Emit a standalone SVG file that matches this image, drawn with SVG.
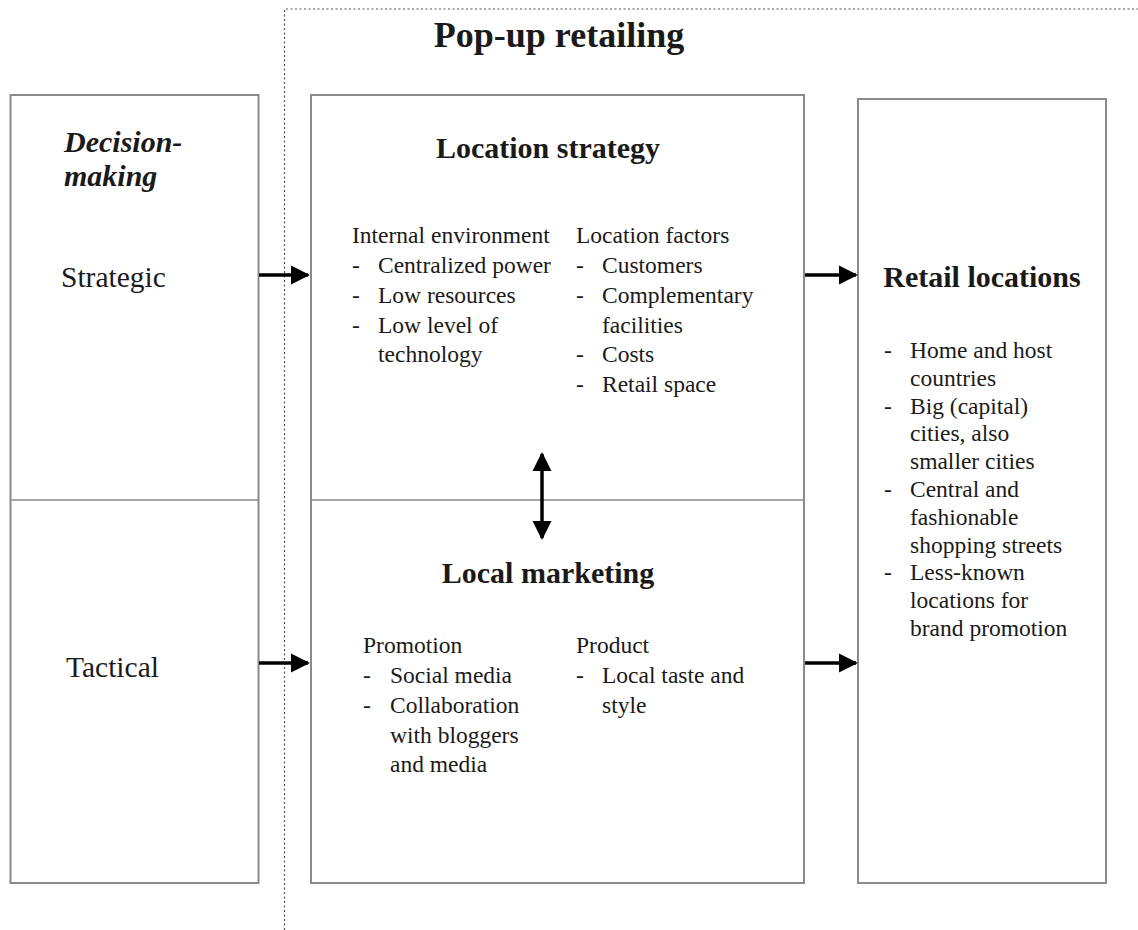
<svg xmlns="http://www.w3.org/2000/svg" width="1138" height="930" viewBox="0 0 1138 930">
  <style>
    .box { fill: #ffffff; stroke: #8a8a8a; stroke-width: 2; }
    .div { stroke: #8a8a8a; stroke-width: 1.5; }
    .frame { fill: none; stroke: #555555; stroke-width: 1.2; stroke-dasharray: 2 2.5; }
    .t { font-family: "Liberation Serif", "Times New Roman", serif; fill: #1a1a1a; }
    .body { font-size: 23.5px; }
    .head { font-size: 30px; font-weight: bold; }
    .side { font-size: 29.5px; }
    .conn { stroke: #000000; stroke-width: 3.5; fill: none; }
  </style>
  <defs>
    <marker id="ah" viewBox="0 0 10 10" refX="9" refY="5" markerWidth="5.5" markerHeight="5.5" markerUnits="strokeWidth" orient="auto-start-reverse">
      <path d="M0,0 L10,5 L0,10 Z" fill="#000000"/>
    </marker>
  </defs>
  <rect width="1138" height="930" fill="#ffffff"/>

  <!-- dotted frame around the pop-up retailing area -->
  <g id="frame">
    <path class="frame" d="M284.5,930 L284.5,9 L1138,9"/>
    <text class="t" x="559" y="47" font-size="36" font-weight="bold" text-anchor="middle">Pop-up retailing</text>
  </g>

  <!-- decision-making levels -->
  <g id="decision-making">
    <rect class="box" x="10.5" y="95" width="248" height="788"/>
    <line class="div" x1="10.5" y1="500" x2="258.5" y2="500"/>
    <text class="t head" x="64" y="152" font-style="italic">Decision-</text>
    <text class="t head" x="64" y="186" font-style="italic">making</text>
    <text class="t side" x="61" y="287">Strategic</text>
    <text class="t side" x="66" y="677">Tactical</text>
  </g>

  <!-- location strategy / local marketing -->
  <g id="location-strategy">
    <rect class="box" x="311" y="95" width="493" height="788"/>
    <line class="div" x1="311" y1="500" x2="804" y2="500"/>
    <text class="t head" x="548" y="158" text-anchor="middle">Location strategy</text>
    <g class="t body">
      <text x="352" y="243">Internal environment</text>
      <text x="352" y="273">-</text><text x="378" y="273">Centralized power</text>
      <text x="352" y="303">-</text><text x="378" y="303">Low resources</text>
      <text x="352" y="333">-</text><text x="378" y="333">Low level of</text>
      <text x="378" y="362">technology</text>
      <text x="576" y="243">Location factors</text>
      <text x="576" y="273">-</text><text x="602" y="273">Customers</text>
      <text x="576" y="303">-</text><text x="602" y="303">Complementary</text>
      <text x="602" y="333">facilities</text>
      <text x="576" y="362">-</text><text x="602" y="362">Costs</text>
      <text x="576" y="392">-</text><text x="602" y="392">Retail space</text>
    </g>
  </g>

  <g id="local-marketing">
    <text class="t head" x="548" y="583" text-anchor="middle">Local marketing</text>
    <g class="t body">
      <text x="363" y="653">Promotion</text>
      <text x="363" y="683">-</text><text x="390" y="683">Social media</text>
      <text x="363" y="713">-</text><text x="390" y="713">Collaboration</text>
      <text x="390" y="743">with bloggers</text>
      <text x="390" y="772">and media</text>
      <text x="576" y="653">Product</text>
      <text x="576" y="683">-</text><text x="602" y="683">Local taste and</text>
      <text x="602" y="713">style</text>
    </g>
  </g>

  <!-- resulting retail locations -->
  <g id="retail-locations">
    <rect class="box" x="858" y="99" width="248" height="784"/>
    <text class="t head" x="982" y="287" text-anchor="middle">Retail locations</text>
    <g class="t body">
      <text x="884" y="358">-</text><text x="910" y="358">Home and host</text>
      <text x="910" y="386">countries</text>
      <text x="884" y="414">-</text><text x="910" y="414">Big (capital)</text>
      <text x="910" y="441">cities, also</text>
      <text x="910" y="469">smaller cities</text>
      <text x="884" y="497">-</text><text x="910" y="497">Central and</text>
      <text x="910" y="525">fashionable</text>
      <text x="910" y="553">shopping streets</text>
      <text x="884" y="580">-</text><text x="910" y="580">Less-known</text>
      <text x="910" y="608">locations for</text>
      <text x="910" y="636">brand promotion</text>
    </g>
  </g>

  <!-- connectors -->
  <g id="connectors">
    <line class="conn" x1="259" y1="275" x2="308" y2="275" marker-end="url(#ah)"/>
    <line class="conn" x1="259" y1="663" x2="308" y2="663" marker-end="url(#ah)"/>
    <line class="conn" x1="805" y1="275" x2="856" y2="275" marker-end="url(#ah)"/>
    <line class="conn" x1="805" y1="663" x2="856" y2="663" marker-end="url(#ah)"/>
    <line class="conn" x1="542" y1="454" x2="542" y2="538" marker-start="url(#ah)" marker-end="url(#ah)"/>
  </g>
</svg>
